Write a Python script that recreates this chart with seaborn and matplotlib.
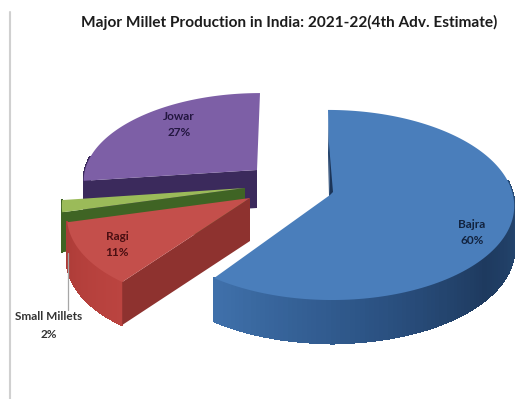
import numpy as np
import matplotlib
matplotlib.use("Agg")
import matplotlib.pyplot as plt
from matplotlib.collections import PolyCollection
import seaborn as sns

# Production shares, clockwise from twelve o'clock
crops = ["Bajra", "Ragi", "Small Millets", "Jowar"]
shares = [60, 11, 2, 27]
chart_title = "Major Millet Production in India: 2021-22(4th Adv. Estimate)"

# Drawing styles and placement of each exploded slice, in figure pixels
slice_style = {
    "Bajra": dict(apex=(330, 195), a=183, b=94, skew=-2, depth=43, top="#4a7ebb", face="#24436c",
                  rim=["#264a75", "#264a75", "#264a75", "#1e3a5f", "#2d5587", "#3f70aa"], order=3),
    "Ragi": dict(apex=(250, 198), a=180, b=95, skew=15, depth=43, top="#c44f4b", face="#8e322f",
                 rim=["#bb4440", "#b5403c", "#ad3c38"], order=2),
    "Small Millets": dict(apex=(245, 188), a=180, b=95, skew=15, depth=40, top="#9bbb59", face="#3f6424",
                          rim=["#3f6424", "#3f6424"], order=1),
    "Jowar": dict(apex=(257, 170), a=172, b=85, skew=3, depth=38, top="#7d5fa6", face="#3b2a5c",
                  rim=["#3b2a5c", "#3b2a5c"], order=0),
}
label_style = {
    "Bajra": dict(x=472, y=224, gap=17, color="#12233f"),
    "Ragi": dict(x=117, y=237, gap=16, color="#4a0f12"),
    "Small Millets": dict(x=49, y=316, gap=18, color="#333333"),
    "Jowar": dict(x=179, y=116, gap=17, color="#231640"),
}
TILT = 0.105

sns.set_theme(style="white")
plt.rcParams["font.family"] = ["Lato", "DejaVu Sans"]

fig = plt.figure(figsize=(5.15, 3.99), dpi=100, facecolor="white")
ax = fig.add_axes([0, 0, 1, 1])
ax.set_xlim(0, 515)
ax.set_ylim(399, 0)
ax.axis("off")


def project(style, theta, radius=1.0):
    """Map a point of the tilted disc to figure pixels."""
    u, v = radius * np.sin(theta), radius * np.cos(theta)
    den = 1 + TILT * v
    x = style["apex"][0] + style["a"] * u / den + style["skew"] * v
    y = style["apex"][1] - style["b"] * v / den
    return np.column_stack([np.atleast_1d(x), np.atleast_1d(y)])


fractions = np.array(shares, dtype=float) / sum(shares)
edges = np.concatenate([[0], np.cumsum(fractions)]) * 2 * np.pi
spans = {c: (edges[i], edges[i + 1]) for i, c in enumerate(crops)}

for crop in sorted(crops, key=lambda c: slice_style[c]["order"]):
    st = slice_style[crop]
    start, end = spans[crop]
    z = 10 + st["order"] * 5
    apex = np.array([st["apex"]], dtype=float)
    drop = np.array([0, st["depth"]])
    thetas = np.linspace(start, end, 160)
    arc = project(st, thetas)

    # Outer rim as shaded strips; only the part facing the viewer is drawn
    shades = sns.blend_palette(st["rim"], len(thetas) - 1)
    keep = [i for i in range(len(arc) - 1) if np.cos(thetas[i]) < 0.15]
    strips = [np.array([arc[i], arc[i + 1], arc[i + 1] + drop, arc[i] + drop]) for i in keep]
    colours = [shades[i] for i in keep]
    ax.add_collection(PolyCollection(strips, facecolors=colours, edgecolors=colours,
                                     linewidths=1.0, antialiaseds=False, zorder=z))

    # Cut face along the leading edge
    corner = project(st, start)
    ax.fill(*np.vstack([apex, corner, corner + drop, apex + drop]).T, color=st["face"], lw=0, zorder=z + 1)

    # Top surface
    ax.fill(*np.vstack([apex, arc]).T, color=st["top"], lw=0, zorder=z + 2)

    # Sliver of shadow on the first slice's inner edge
    if crop == "Bajra":
        upper = project(st, start, 0.6)
        ax.fill(*np.vstack([upper, apex, apex + [3, -3]]).T, color="#1c3558", lw=0, zorder=z + 3)

# Chart frame remnant and the leader line
ax.plot([10, 10], [12, 399], color="#d0d0d0", lw=1.5, zorder=1)
ax.plot([68, 68], [253, 310], color="#a6a6a6", lw=0.9, zorder=30)

for crop, share in zip(crops, shares):
    ls = label_style[crop]
    ax.text(ls["x"], ls["y"], crop, ha="center", va="center", fontsize=8.5, fontweight="bold", color=ls["color"], zorder=40)
    ax.text(ls["x"], ls["y"] + ls["gap"], f"{share}%", ha="center", va="center", fontsize=8.5, fontweight="bold", color=ls["color"], zorder=40)

ax.text(289, 22, chart_title, ha="center", va="center", fontsize=11.1, fontweight="bold", color="#1c1c1c", zorder=40)

fig.savefig("out.png", dpi=100, facecolor="white")
